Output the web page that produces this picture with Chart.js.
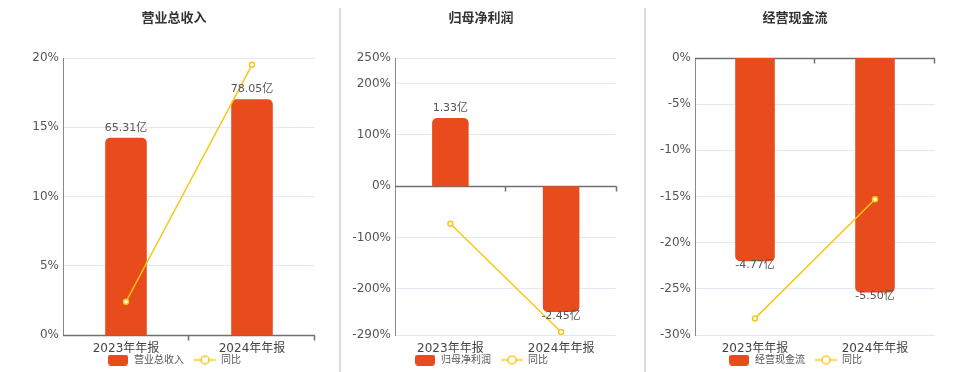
<!DOCTYPE html>
<html>
<head>
<meta charset="utf-8">
<script src="https://cdn.jsdelivr.net/npm/chart.js@4.4.1/dist/chart.umd.min.js"></script>
<style>
  html, body { margin: 0; padding: 0; background: #fff; }
  body { width: 960px; height: 372px; position: relative; overflow: hidden; }
  canvas { position: absolute; top: 0; }
  .divider { position: absolute; top: 8px; bottom: 0; width: 2px; background: #dcdcdc; }
</style>
</head>
<body>
<div class="divider" style="left:339px"></div>
<div class="divider" style="left:644px"></div>
<canvas id="c1" width="348" height="372" style="left:0"></canvas>
<canvas id="c2" width="282" height="372" style="left:340px"></canvas>
<canvas id="c3" width="298" height="372" style="left:646px"></canvas>
<script>
const categories = ['2023年年报', '2024年年报'];

// 营业总收入 (亿) and 同比 (%)
const revenue = [65.31, 78.05];
const revenueYoy = [2.40, 19.51];
const revenueTicks = [0, 5, 10, 15, 20];

// 归母净利润
const netProfit = [1.33, -2.45];
const netProfitYoy = [-73.0, -284.2];
const netProfitTicks = [-290, -200, -100, 0, 100, 200, 250];

// 经营现金流
const cashFlow = [-4.77, -5.50];
const cashFlowYoy = [-28.2, -15.30];
const cashFlowTicks = [-30, -25, -20, -15, -10, -5, 0];

const barColor = '#e84b1c';
const lineColor = '#f5c815';
const fontFamily = "'DejaVu Sans', 'Noto Sans CJK SC', sans-serif";

Chart.defaults.font.family = fontFamily;

function makeIcon(w, h, draw) {
  const c = document.createElement('canvas');
  c.width = w;
  c.height = h;
  draw(c.getContext('2d'), w, h);
  return c;
}

const barIcon = makeIcon(20, 11, (ctx, w, h) => {
  ctx.fillStyle = barColor;
  ctx.beginPath();
  ctx.roundRect(0, 0, w, h, 3);
  ctx.fill();
});

const lineIcon = makeIcon(22, 11, (ctx, w, h) => {
  ctx.strokeStyle = lineColor;
  ctx.lineWidth = 1.5;
  ctx.beginPath();
  ctx.moveTo(0, h / 2);
  ctx.lineTo(w, h / 2);
  ctx.stroke();
  ctx.beginPath();
  ctx.arc(w / 2, h / 2, 4, 0, Math.PI * 2);
  ctx.fillStyle = '#fff';
  ctx.fill();
  ctx.stroke();
});

// axis line drawn through 0% with small ticks between categories
const zeroAxis = {
  id: 'zeroAxis',
  beforeDatasetsDraw(chart) {
    const {ctx, chartArea, scales} = chart;
    const x = scales.x;
    const y0 = Math.round(scales.y.getPixelForValue(0)) + 0.5;
    ctx.save();
    ctx.strokeStyle = '#6e7079';
    ctx.lineWidth = 1.5;
    ctx.beginPath();
    ctx.moveTo(chartArea.left, y0);
    ctx.lineTo(chartArea.right, y0);
    const n = x.ticks.length;
    for (let i = 1; i <= n; i++) {
      const px = Math.round(x.left + x.width * i / n) - 0.5;
      ctx.moveTo(px, y0);
      ctx.lineTo(px, y0 + 5);
    }
    ctx.stroke();
    ctx.restore();
  }
};

const barLabels = {
  id: 'barLabels',
  afterDatasetsDraw(chart) {
    const {ctx} = chart;
    const meta = chart.getDatasetMeta(0);
    const values = chart.data.datasets[0].data;
    ctx.save();
    ctx.font = '11px ' + fontFamily;
    ctx.fillStyle = '#555';
    ctx.textAlign = 'center';
    ctx.textBaseline = 'middle';
    meta.data.forEach((bar, i) => {
      const v = values[i];
      const ty = v >= 0 ? bar.y - 10 : bar.y + 4;
      ctx.fillText(v.toFixed(2) + '亿', bar.x, ty);
    });
    ctx.restore();
  }
};

function makeChart(id, title, seriesName, bars, yoy, ticks, barRange, yWidth, rightWidth) {
  return new Chart(document.getElementById(id), {
    type: 'bar',
    data: {
      labels: categories,
      datasets: [
        {
          type: 'bar',
          label: seriesName,
          data: bars,
          yAxisID: 'y1',
          backgroundColor: barColor,
          borderRadius: 5,
          barPercentage: 1,
          categoryPercentage: 0.33,
          order: 1
        },
        {
          type: 'line',
          label: '同比',
          data: yoy,
          yAxisID: 'y',
          borderColor: lineColor,
          borderWidth: 1.5,
          pointRadius: 2.5,
          pointBackgroundColor: '#fff',
          pointBorderColor: lineColor,
          pointBorderWidth: 1.5,
          tension: 0,
          order: 0
        }
      ]
    },
    options: {
      responsive: false,
      animation: false,
      devicePixelRatio: 1,
      layout: { padding: { top: 0, left: 0, right: 0, bottom: -3 } },
      plugins: {
        title: {
          display: true,
          text: title,
          color: '#333',
          font: { size: 13, weight: 'bold' },
          padding: { top: 11, bottom: 31.4 }
        },
        legend: {
          position: 'bottom',
          labels: {
            usePointStyle: true,
            pointStyleWidth: 22,
            boxHeight: 10,
            padding: 10,
            color: '#555',
            font: { size: 10 },
            sort: (a, b) => a.datasetIndex - b.datasetIndex,
            generateLabels: chart => Chart.defaults.plugins.legend.labels.generateLabels(chart)
              .map(item => Object.assign(item, { pointStyle: item.datasetIndex === 0 ? barIcon : lineIcon }))
          }
        },
        tooltip: { enabled: false }
      },
      scales: {
        x: {
          grid: { display: false },
          border: { display: false },
          // mirror keeps the labels unclipped below the thin axis box
          ticks: { color: '#444', font: { size: 12 }, mirror: true, padding: -21.2 },
          afterFit: s => { s.height = 10; }
        },
        y: {
          position: 'left',
          min: ticks[0],
          max: ticks[ticks.length - 1],
          afterBuildTicks: s => { s.ticks = ticks.map(v => ({ value: v })); },
          grid: {
            color: c => (c.tick && c.tick.value === 0) ? 'rgba(0,0,0,0)' : '#e3e8f1',
            drawTicks: false
          },
          border: { color: '#888' },
          ticks: { color: '#555', font: { size: 12 }, padding: 4, callback: v => v + '%' },
          afterFit: s => { s.width = yWidth; }
        },
        y1: {
          position: 'right',
          min: barRange[0],
          max: barRange[1],
          grid: { display: false },
          border: { display: false },
          ticks: { display: false },
          afterFit: s => { s.width = rightWidth; }
        }
      }
    },
    plugins: [zeroAxis, barLabels]
  });
}

makeChart('c1', '营业总收入', '营业总收入', revenue, revenueYoy, revenueTicks, [0, 91.7], 63, 33);
makeChart('c2', '归母净利润', '归母净利润', netProfit, netProfitYoy, netProfitTicks, [-2.9, 2.5], 55, 2);
makeChart('c3', '经营现金流', '经营现金流', cashFlow, cashFlowYoy, cashFlowTicks, [-6.5, 0], 49, 9);
</script>
</body>
</html>
